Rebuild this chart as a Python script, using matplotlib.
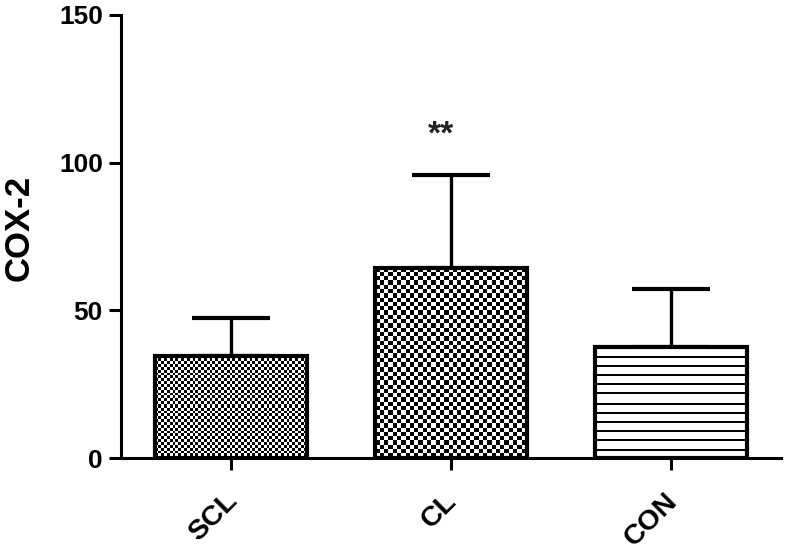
import numpy as np
import matplotlib
matplotlib.use("Agg")
import matplotlib.pyplot as plt
import matplotlib.transforms as mtransforms

# ---- data ----
categories = ["SCL", "CL", "CON"]
means = [34.7, 64.4, 37.6]
errors = [12.6, 31.3, 19.5]
annotations = ["", "**", ""]
annot_y = [None, 109.5, None]
yticks = [0, 50, 100, 150]
ylabel = "COX-2"

# texture styles: (kind, pixel size)
textures = [("checker", 2.85), ("checker", 4.3), ("hlines", 9.2)]

plt.rcParams['font.family'] = ['Liberation Sans', 'DejaVu Sans']
plt.rcParams['font.weight'] = 'bold'

W, H = 787, 554
fig = plt.figure(figsize=(W / 100, H / 100), dpi=100)
ax = fig.add_axes([121 / W, (H - 458) / H, 660 / W, 443 / H])

x = np.arange(len(categories))
bw = 0.69
ax.set_xlim(-0.5, 2.5)
ax.set_ylim(0, 150)

ax.spines['top'].set_visible(False)
ax.spines['right'].set_visible(False)
for s in ['left', 'bottom']:
    ax.spines[s].set_linewidth(2.2)

bars = ax.bar(x, means, width=bw, facecolor='white', edgecolor='black',
              linewidth=3, zorder=3)

# textures
for b, (kind, size) in zip(bars, textures):
    x0, y0 = b.get_x(), 0
    x1, y1 = b.get_x() + b.get_width(), b.get_height()
    p0 = ax.transData.transform((x0, y0))
    p1 = ax.transData.transform((x1, y1))
    npx = int(round(p1[0] - p0[0]))
    npy = int(round(p1[1] - p0[1]))
    rr, cc = np.mgrid[0:npy, 0:npx]
    if kind == "checker":
        img = ((np.floor(rr / size) + np.floor(cc / size)) % 2 == 0).astype(float)
    else:
        img = ((rr % size) < 2.0).astype(float)
    im = ax.imshow(1 - img, cmap='gray', vmin=0, vmax=1, extent=(x0, x1, y0, y1),
                   origin='upper', interpolation='nearest', aspect='auto', zorder=2)
    im.set_clip_path(b)
    b.set_facecolor('none')

ax.errorbar(x, means, yerr=[np.zeros(len(errors)), errors], fmt='none',
            ecolor='black', elinewidth=2.4, capsize=28, capthick=3, zorder=1)

for xi, t, yv in zip(x, annotations, annot_y):
    if t:
        ax.text(xi - 0.045, yv, t, ha='center', va='center', fontsize=24,
                fontweight='bold', color='#222222')

ax.set_yticks(yticks)
ax.set_yticklabels([str(v) for v in yticks], fontsize=19, fontweight='bold')
ax.set_xticks(x)
ax.set_xticklabels(categories, fontsize=20.5, fontweight='bold', rotation=45,
                   ha='right', rotation_mode='anchor')
ax.tick_params(axis='y', length=9, width=2.2, pad=4)
ax.tick_params(axis='x', length=8.5, width=2.2, pad=13)

offset = mtransforms.ScaledTranslation(-7 / 100, 0, fig.dpi_scale_trans)
for lbl in ax.get_xticklabels():
    lbl.set_transform(lbl.get_transform() + offset)

ax.set_ylabel(ylabel, fontsize=25, fontweight='bold')
ax.yaxis.set_label_coords(-0.13, 0.52)

fig.savefig("out.png", dpi=100)
